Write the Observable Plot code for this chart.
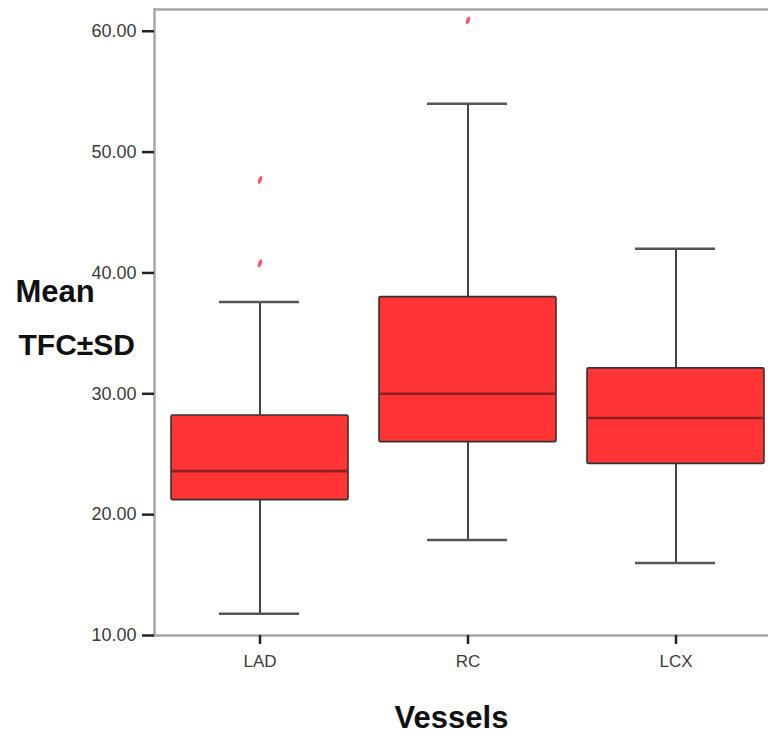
<!DOCTYPE html>
<html>
<head>
<meta charset="utf-8">
<script src="https://cdn.jsdelivr.net/npm/d3@7"></script>
<script src="https://cdn.jsdelivr.net/npm/@observablehq/plot@0.6"></script>
<style>
  html, body { margin: 0; padding: 0; background: #fff; }
  #chart svg { display: block; }
</style>
</head>
<body>
<div id="chart"></div>
<script>
const categories = ["LAD", "RC", "LCX"];
const whiskerLow = [11.8, 17.9, 16.0];
const q1 = [21.2, 26.0, 24.2];
const median = [23.6, 30.0, 28.0];
const q3 = [28.2, 38.0, 32.1];
const whiskerHigh = [37.6, 54.0, 42.0];
const outlierVessel = ["LAD", "LAD", "RC"];
const outlierValue = [47.7, 40.8, 60.9];
const yTicks = [10, 20, 30, 40, 50, 60];
const yDomain = [10, 61.8];

const boxes = categories.map((c, i) => ({
  vessel: c, lo: whiskerLow[i], q1: q1[i], med: median[i], q3: q3[i], hi: whiskerHigh[i]
}));
const outliers = outlierVessel.map((v, i) => ({vessel: v, value: outlierValue[i]}));

// small slanted oval symbol for outliers
const slantOval = {
  draw(ctx) {
    const rx = 1.8, ry = 4.2, a = 0.35;
    for (let k = 0; k <= 24; k++) {
      const t = (k / 24) * 2 * Math.PI;
      const px = rx * Math.cos(t), py = ry * Math.sin(t);
      const x = px * Math.cos(a) - py * Math.sin(a);
      const y = px * Math.sin(a) + py * Math.cos(a);
      if (k === 0) ctx.moveTo(x, y); else ctx.lineTo(x, y);
    }
    ctx.closePath();
  }
};

const chart = Plot.plot({
  width: 768,
  height: 736,
  marginLeft: 154,
  marginRight: 0,
  marginTop: 9,
  marginBottom: 101,
  style: {fontFamily: "'Liberation Sans', Arial, sans-serif", background: "#fff"},
  x: {domain: categories, range: [154, 780], paddingInner: 0.15, paddingOuter: 0.077, label: null},
  y: {domain: yDomain, range: [635, 9], label: null},
  marks: [
    Plot.ruleY(yDomain, {stroke: "#a6a6a6", strokeWidth: 2.5}),
    Plot.frame({anchor: "left", stroke: "#a6a6a6", strokeWidth: 2.5}),
    Plot.axisY({ticks: yTicks, tickFormat: d => d.toFixed(2), tickSize: 12, tickPadding: 6,
      fontSize: 18, fill: "#3a3a3a", stroke: "#222", strokeWidth: 2.5, label: null}),
    Plot.axisX({tickSize: 9, tickPadding: 10, fontSize: 17, fill: "#3a3a3a",
      stroke: "#222", strokeWidth: 2.5, label: null}),
    Plot.ruleX(boxes, {x: "vessel", y1: "lo", y2: "hi", stroke: "#444", strokeWidth: 2}),
    Plot.tickY(boxes, {x: "vessel", y: "lo", stroke: "#555", strokeWidth: 2.5, insetLeft: 48, insetRight: 49}),
    Plot.tickY(boxes, {x: "vessel", y: "hi", stroke: "#555", strokeWidth: 2.5, insetLeft: 48, insetRight: 49}),
    Plot.barY(boxes, {x: "vessel", y1: "q1", y2: "q3", fill: "#ff3535", stroke: "#333", strokeWidth: 1.6, rx: 1.5}),
    Plot.tickY(boxes, {x: "vessel", y: "med", stroke: "#8c1f1f", strokeWidth: 2.6}),
    Plot.dot(outliers, {x: "vessel", y: "value", symbol: slantOval, fill: "#ff3b4b", fillOpacity: 0.85, stroke: "none"}),
    Plot.text(["Mean"], {frameAnchor: "left", dx: -139, dy: -30, textAnchor: "start", lineAnchor: "middle",
      fontSize: 31, fontWeight: "bold", fill: "#111"}),
    Plot.text(["TFC±SD"], {frameAnchor: "left", dx: -136, dy: 23, textAnchor: "start", lineAnchor: "middle",
      fontSize: 30, fontWeight: "bold", fill: "#111"}),
    Plot.text(["Vessels"], {frameAnchor: "bottom", dx: -10, dy: 83, lineAnchor: "middle",
      fontSize: 31, fontWeight: "bold", fill: "#111"})
  ]
});
document.getElementById("chart").appendChild(chart);
</script>
</body>
</html>
